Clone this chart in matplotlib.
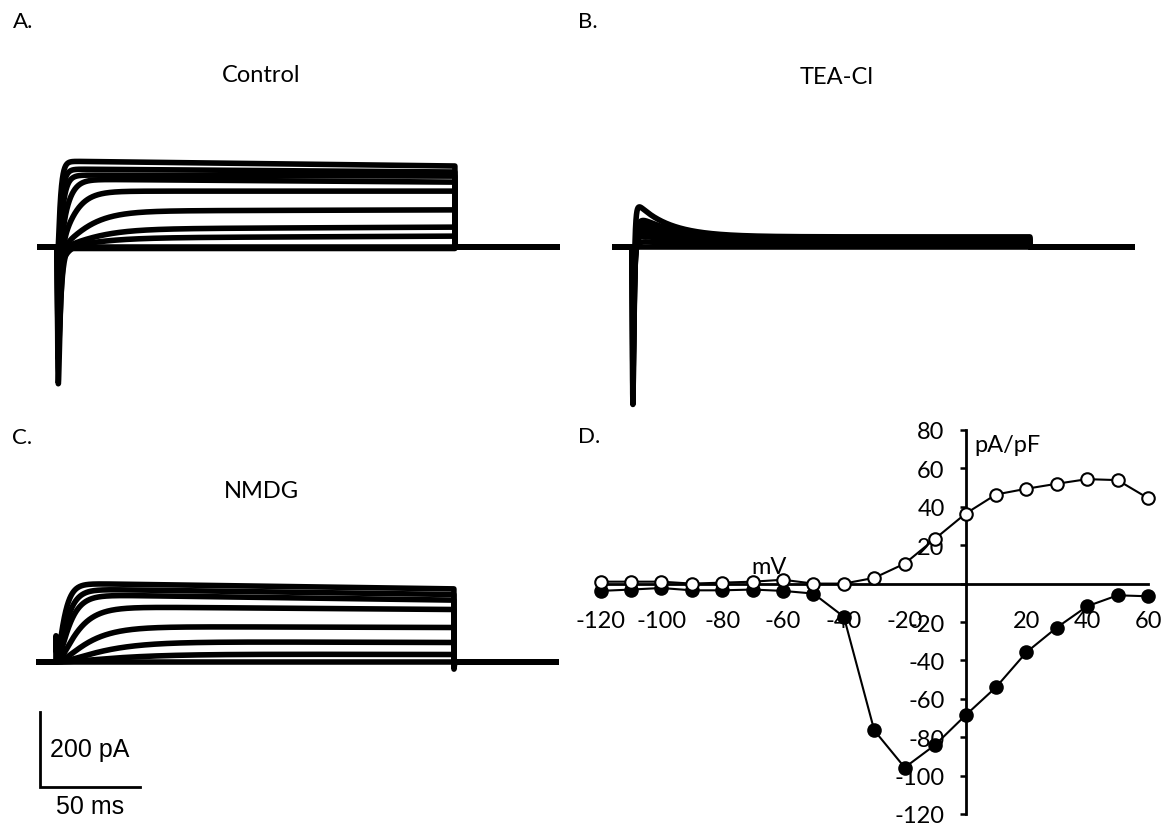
import numpy as np
import matplotlib.pyplot as plt

plt.rcParams['font.family'] = ['Lato', 'DejaVu Sans']

# ---- whole-cell currents, one entry per sweep (pA / ms) ----
step_ms = 200.0

# Control
ctrl_early = [229, 208, 192, 181, 149, 96, 48, 24, 0, -4]
ctrl_late = [216, 200, 189, 173, 149, 99, 53, 29, 0, -4]
ctrl_tau = [1.2, 1.5, 2.0, 3.5, 6.0, 11.0, 14.0, 15.0, 1.0, 1.0]
ctrl_na = [-40, -90, -160, -230, -300, -365, -280, -70, 0, 0]
ctrl_na_tau = [0.6, 0.7, 0.8, 0.9, 1.0, 1.1, 1.4, 3.0, 1.0, 1.0]

# TEA-Cl
tea_peak = [106, 70, 66, 56, 42, 28, 14, 0]
tea_ss = [27, 24, 20, 16, 12, 8, 4, 0]
tea_decay = [16, 18, 18, 20, 20, 22, 22, 20]
tea_act = [0.9, 1.6, 2.2, 1.8, 1.5, 1.3, 1.2, 1.0]
tea_na = [-440, -400, -340, -300, -200, -120, -50, 0]
tea_na_tau = [0.45, 0.5, 0.55, 0.6, 0.7, 0.8, 1.2, 1.0]

# NMDG
nmdg_early = [210, 195, 180, 148, 95, 55, 22, 0]
nmdg_late = [195, 180, 165, 140, 92, 52, 20, 0]
nmdg_tau = [3.0, 4.0, 5.0, 8.0, 12.0, 18.0, 25.0, 1.0]
nmdg_artifact_on = 70
nmdg_artifact_off = -19

# ---- I-V relation (pA/pF) ----
iv_mv = [-120, -110, -100, -90, -80, -70, -60, -50, -40, -30,
         -20, -10, 0, 10, 20, 30, 40, 50, 60]
iv_outward = [1, 1, 1, 0, 0.5, 1, 2, 0, 0, 3,
              10.4, 23.4, 36.4, 46.4, 49.4, 52, 54.4, 53.9, 44.5]
iv_inward = [-3.8, -3.1, -2.3, -3.5, -3.5, -3.1, -3.8, -5.2, -17.3, -76.5,
             -95.8, -84, -68.6, -54, -35.8, -22.9, -11.8, -6.1, -6.6]

t = np.arange(-9.0, 252.0, 0.05)
ts = np.clip(t, 0, None)
on = (t >= 0) & (t <= step_ms)
off = t > step_ms


def na_shape(tau_h, tau_m=0.25):
    g = (1 - np.exp(-ts / tau_m)) ** 3 * np.exp(-ts / tau_h)
    return g / g.max()


def close_step(y, tau_tail=0.6):
    # deactivation after the pulse
    i_end = np.interp(step_ms, t, np.where(on, y, 0))
    out = np.where(on, y, 0.0)
    out[off] = i_end * np.exp(-(t[off] - step_ms) / tau_tail)
    return out


def sustained(i0, i1, tau):
    act = (1 - np.exp(-ts / tau)) ** 2
    level = i0 + (i1 - i0) * np.clip(ts / step_ms, 0, 1)
    return level * act


W, H = 1168, 828
fig = plt.figure(figsize=(W / 100, H / 100), dpi=100)

ms_px = 1.99
pa_px = 75 / 200.0


def trace_axes(t0_px, base_px, ylo, yhi):
    x0 = t0_px + t[0] * ms_px - 2
    x1 = t0_px + t[-1] * ms_px + 2
    top = base_px - yhi * pa_px
    bot = base_px - ylo * pa_px
    ax = fig.add_axes([x0 / W, 1 - bot / H, (x1 - x0) / W, (bot - top) / H])
    ax.set_xlim(t[0] - 2 / ms_px, t[-1] + 2 / ms_px)
    ax.set_ylim(ylo, yhi)
    ax.axis('off')
    return ax


lw = 4.0

# A. Control
ax_a = trace_axes(57, 248, -420, 320)
for i in range(len(ctrl_early)):
    y = sustained(ctrl_early[i], ctrl_late[i], ctrl_tau[i])
    y = y + ctrl_na[i] * na_shape(ctrl_na_tau[i])
    ax_a.plot(t, close_step(y), color='black', lw=lw, solid_joinstyle='round')

# B. TEA-Cl
ax_b = trace_axes(632, 248, -460, 320)
for i in range(len(tea_ss)):
    act = (1 - np.exp(-ts / tea_act[i])) ** 2
    y = (tea_peak[i] * np.exp(-ts / tea_decay[i]) + tea_ss[i]) * act
    y = y + tea_na[i] * na_shape(tea_na_tau[i])
    ax_b.plot(t, close_step(y), color='black', lw=lw, solid_joinstyle='round')

# C. NMDG
ax_c = trace_axes(56, 663, -380, 320)
for i in range(len(nmdg_early)):
    y = sustained(nmdg_early[i], nmdg_late[i], nmdg_tau[i])
    if i == 0:
        y = y + nmdg_artifact_on * np.exp(-ts / 0.3) * (ts > 0)
    y = close_step(y)
    if i == 0:
        y[off] += nmdg_artifact_off * np.exp(-(t[off] - step_ms) / 0.3)
    ax_c.plot(t, y, color='black', lw=lw, solid_joinstyle='round')

# scale bar: 50 ms x 200 pA
bar_t0 = (40 - 56) / ms_px
bar_i0 = (663 - 788) / pa_px
ax_c.plot([bar_t0, bar_t0, bar_t0 + 50], [bar_i0 + 200, bar_i0, bar_i0],
          color='black', lw=2.0, clip_on=False, solid_joinstyle='miter')
fig.text(90 / W, 1 - 750 / H, '200 pA', family='Liberation Sans',
         fontsize=18, ha='center', va='center')
fig.text(90 / W, 1 - 807 / H, '50 ms', family='Liberation Sans',
         fontsize=18, ha='center', va='center')

# D. I-V plot with axes crossing at the origin
x_left, x_right = 600.6, 1148
y_top, y_bot = 431, 815
ax_d = fig.add_axes([x_left / W, 1 - y_bot / H,
                     (x_right - x_left) / W, (y_bot - y_top) / H])
ax_d.set_xlim(-120, 60)
ax_d.set_ylim(-120, 80)
ax_d.plot(iv_mv, iv_inward, '-o', color='black', lw=1.5, ms=9,
          mfc='black', mec='black', mew=1.5, clip_on=False, zorder=3)
ax_d.plot(iv_mv, iv_outward, '-o', color='black', lw=1.5, ms=9,
          mfc='white', mec='black', mew=1.5, clip_on=False, zorder=4)

for side in ['top', 'right']:
    ax_d.spines[side].set_visible(False)
ax_d.spines['left'].set_position(('data', 0))
ax_d.spines['bottom'].set_position(('data', 0))
for side in ['left', 'bottom']:
    ax_d.spines[side].set_linewidth(2.0)
ax_d.patch.set_alpha(0)

xt = list(range(-120, 61, 20))
ax_d.set_xticks(xt)
ax_d.set_xticklabels(['' if v == 0 else str(v) for v in xt])
yt = list(range(-120, 81, 20))
ax_d.set_yticks(yt)
ax_d.set_yticklabels(['' if v == 0 else str(v) for v in yt])
ax_d.tick_params(axis='x', length=0, pad=19, labelsize=17)
ax_d.tick_params(axis='y', length=4, width=1.8, direction='out', pad=11,
                 labelsize=17)

fig.text(769 / W, 1 - 567 / H, 'mV', fontsize=17, ha='center', va='center')
fig.text(1008 / W, 1 - 445 / H, 'pA/pF', fontsize=17, ha='center',
         va='center')

# panel letters and conditions
fig.text(23 / W, 1 - 22 / H, 'A.', fontsize=16, ha='center', va='center')
fig.text(588 / W, 1 - 22 / H, 'B.', fontsize=16, ha='center', va='center')
fig.text(22 / W, 1 - 438 / H, 'C.', fontsize=16, ha='center', va='center')
fig.text(589 / W, 1 - 437 / H, 'D.', fontsize=16, ha='center', va='center')
fig.text(261 / W, 1 - 75 / H, 'Control', fontsize=17, ha='center',
         va='center')
fig.text(837 / W, 1 - 78 / H, 'TEA-Cl', fontsize=17, ha='center',
         va='center')
fig.text(261 / W, 1 - 492 / H, 'NMDG', fontsize=17, ha='center',
         va='center')

fig.savefig('out.png', dpi=100)
